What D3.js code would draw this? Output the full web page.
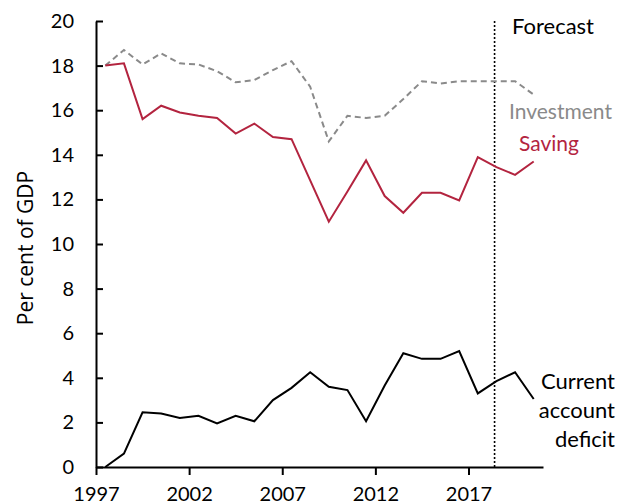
<!DOCTYPE html>
<html>
<head>
<meta charset="utf-8">
<script src="https://cdn.jsdelivr.net/npm/d3@7"></script>
<style>
  body { margin: 0; background: #fff; }
  svg { display: block; font-family: Lato, sans-serif; }
</style>
</head>
<body>
<svg id="chart" width="624" height="504"></svg>
<script>
// years (points sit mid-year)
const years = [1997, 1998, 1999, 2000, 2001, 2002, 2003, 2004, 2005, 2006, 2007, 2008,
  2009, 2010, 2011, 2012, 2013, 2014, 2015, 2016, 2017, 2018, 2019, 2020];
const saving = [18.0, 18.1, 15.6, 16.2, 15.9, 15.75, 15.65, 14.95, 15.4, 14.8, 14.7, 12.85,
  11.0, 12.35, 13.75, 12.15, 11.4, 12.3, 12.3, 11.95, 13.9, 13.45, 13.1, 13.7];
const investment = [18.0, 18.7, 18.05, 18.55, 18.1, 18.05, 17.75, 17.25, 17.35, 17.8, 18.2, 17.05,
  14.6, 15.75, 15.65, 15.75, 16.5, 17.3, 17.2, 17.3, 17.3, 17.3, 17.3, 16.7];
const deficit = [0.0, 0.6, 2.45, 2.4, 2.2, 2.3, 1.95, 2.3, 2.05, 3.0, 3.55, 4.25,
  3.6, 3.45, 2.05, 3.65, 5.1, 4.85, 4.85, 5.2, 3.3, 3.85, 4.25, 3.05];
const xTicks = [1997, 2002, 2007, 2012, 2017];
const yTicks = [0, 2, 4, 6, 8, 10, 12, 14, 16, 18, 20];
const forecastStart = 2018.4;

const svg = d3.select('#chart');
const margin = { left: 96, top: 21, right: 81, bottom: 37 };
const width = 624 - margin.left - margin.right;
const height = 504 - margin.top - margin.bottom;

const x = d3.scaleLinear().domain([1997, 2021]).range([0, width]);
const y = d3.scaleLinear().domain([0, 20]).range([height, 0]);

const g = svg.append('g').attr('transform', `translate(${margin.left},${margin.top})`);

// axes
const xAxis = g.append('g')
  .attr('transform', `translate(0,${height})`)
  .call(d3.axisBottom(x).tickValues(xTicks).tickFormat(d3.format('d')).tickSize(8).tickSizeOuter(0));
xAxis.selectAll('text').attr('dy', '1.17em');

const yAxis = g.append('g')
  .call(d3.axisLeft(y).tickValues(yTicks).tickSize(-7).tickSizeOuter(0).tickPadding(22));

[xAxis, yAxis].forEach((ax) => {
  ax.select('.domain').attr('stroke', '#000').attr('stroke-width', 2);
  ax.selectAll('.tick line').attr('stroke', '#000').attr('stroke-width', 2);
  ax.selectAll('text').attr('font-family', 'Lato, sans-serif').attr('font-size', 20).attr('fill', '#000');
});

svg.append('text')
  .attr('transform', `translate(33,${margin.top + 227}) rotate(-90)`)
  .attr('text-anchor', 'middle')
  .attr('font-family', '"Open Sans", sans-serif')
  .attr('font-size', 21)
  .text('Per cent of GDP');

// forecast divider
g.append('line')
  .attr('x1', x(forecastStart)).attr('x2', x(forecastStart))
  .attr('y1', 0).attr('y2', height)
  .attr('stroke', '#000').attr('stroke-width', 1.6)
  .attr('stroke-dasharray', '2,2');

const line = (vals) => d3.line()
  .x((d, i) => x(years[i] + 0.5))
  .y(d => y(d))(vals);

g.append('path').attr('d', line(investment))
  .attr('fill', 'none').attr('stroke', '#8a8a8a').attr('stroke-width', 2)
  .attr('stroke-dasharray', '6,4');
g.append('path').attr('d', line(saving))
  .attr('fill', 'none').attr('stroke', '#b3243f').attr('stroke-width', 2);
g.append('path').attr('d', line(deficit))
  .attr('fill', 'none').attr('stroke', '#000').attr('stroke-width', 2);

// labels
const label = (txt, tx, ty, color, anchor, size) => svg.append('text')
  .attr('x', tx).attr('y', ty)
  .attr('text-anchor', anchor || 'start')
  .attr('font-size', size || 21).attr('fill', color)
  .text(txt);

label('Forecast', 512, 34, '#000', 'start', 22);
label('Investment', 509, 119, '#8a8a8a');
label('Saving', 519, 151, '#b3243f');
label('Current', 615, 389, '#000', 'end', 22);
label('account', 615, 418, '#000', 'end', 22);
label('deficit', 615, 447, '#000', 'end', 22);
</script>
</body>
</html>
